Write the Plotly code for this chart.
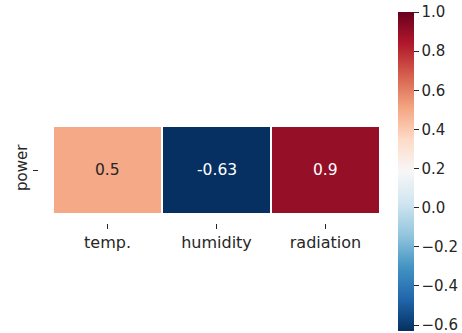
import plotly.graph_objects as go

columns = ["temp.", "humidity", "radiation"]
rows = ["power"]
values = [[0.5, -0.63, 0.9]]
labels = [["0.5", "-0.63", "0.9"]]
cbar_ticks = [-0.6, -0.4, -0.2, 0.0, 0.2, 0.4, 0.6, 0.8, 1.0]

rdbu_r = ["#053061", "#2166ac", "#4393c3", "#92c5de", "#d1e5f0", "#f7f7f7",
          "#fddbc7", "#f4a582", "#d6604d", "#b2182b", "#67001f"]
cscale = [[i / 10, c] for i, c in enumerate(rdbu_r)]

vmin = min(min(r) for r in values)
vmax = 1.0

W, H = 462, 333
font = "DejaVu Sans"
tc = "#262626"

xi = list(range(len(columns)))
yi = list(range(len(rows)))

fig = go.Figure(go.Heatmap(
    z=values, x=xi, y=yi, zmin=vmin, zmax=vmax,
    colorscale=cscale, xgap=2, ygap=0, hoverinfo="skip",
    colorbar=dict(
        thickness=16, thicknessmode="pixels",
        len=(331 - 12) / H, lenmode="fraction",
        x=398 / W, xanchor="left", y=(H - 12) / H, yanchor="top",
        xpad=0, ypad=0, outlinewidth=0,
        ticks="outside", ticklen=5, tickcolor=tc,
        tickvals=cbar_ticks, ticklabeloverflow="allow",
        ticktext=[("\u2212" if t < 0 else "") + f"{abs(t):.1f}" for t in cbar_ticks],
        tickfont=dict(family=font, size=15, color=tc),
    ),
))

# invisible helper trace so the offset tick axes are drawn
fig.add_trace(go.Scatter(x=xi, y=[yi[0]] * len(xi), xaxis="x2", yaxis="y2",
                         mode="markers", marker=dict(opacity=0), hoverinfo="skip",
                         showlegend=False))

for j in xi:
    v = values[0][j]
    norm = (v - vmin) / (vmax - vmin)
    dark_text = 0.25 < norm < 0.72
    fig.add_annotation(x=j, y=0, text=labels[0][j], showarrow=False,
                       font=dict(family=font, size=15.5,
                                 color=tc if dark_text else "white"))

xr = [-0.5, len(columns) - 0.5]
yr = [-0.5, len(rows) - 0.5]
fig.update_layout(
    width=W, height=H, margin=dict(l=0, r=0, t=0, b=0),
    paper_bgcolor="white", plot_bgcolor="white",
    xaxis=dict(domain=[53 / W, 380 / W], range=xr, showgrid=False, zeroline=False,
               showticklabels=False, ticks="", showline=False),
    yaxis=dict(domain=[(H - 213) / H, (H - 127) / H], range=yr, showgrid=False,
               zeroline=False, showticklabels=False, ticks="", showline=False),
    xaxis2=dict(overlaying="x", anchor="free", position=(H - 223) / H, side="bottom",
                domain=[49 / W, 378 / W], range=xr, showgrid=False, zeroline=False,
                tickvals=xi, ticktext=columns, ticks="outside", ticklen=5,
                tickcolor=tc, tickfont=dict(family=font, size=16, color=tc),
                showline=False),
    yaxis2=dict(overlaying="y", anchor="free", position=38 / W, side="left",
                domain=[(H - 213) / H, (H - 127) / H], range=yr, showgrid=False,
                zeroline=False, tickvals=yi, ticktext=rows, ticks="outside",
                ticklen=5, tickcolor=tc, tickangle=-90,
                tickfont=dict(family=font, size=15, color=tc), showline=False),
)

fig.write_html("out.html")
